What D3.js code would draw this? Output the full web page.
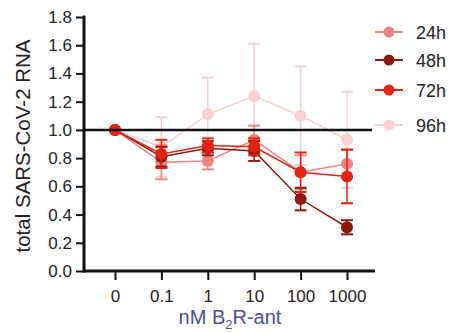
<!DOCTYPE html>
<html><head><meta charset="utf-8">
<script src="https://cdn.jsdelivr.net/npm/d3@7"></script>
<style>body{margin:0;background:#fff}svg{display:block}</style>
</head><body>
<svg id="c" width="455" height="333"></svg>
<script>
const categories = ["0","0.1","1","10","100","1000"];
const yTicks = [0,0.2,0.4,0.6,0.8,1.0,1.2,1.4,1.6,1.8];
const seriesNames = ["24h","48h","72h","96h"];
const v24 = [1.0,0.77,0.78,0.93,0.70,0.76];
const e24 = [0,0.12,0.06,0.10,0.12,0.10];
const v48 = [1.0,0.81,0.87,0.85,0.51,0.31];
const e48 = [0,0.07,0.05,0.07,0.08,0.05];
const v72 = [1.0,0.83,0.89,0.88,0.70,0.67];
const e72 = [0,0.10,0.05,0.06,0.14,0.19];
const v96 = [1.0,0.88,1.11,1.24,1.10,0.93];
const e96 = [0,0.21,0.26,0.37,0.35,0.34];
const colors = ["#f08282","#8b180c","#e2230f","#f7c0c0"];

const svg = d3.select("#c");
const x = d3.scalePoint().domain(categories).range([115,347]);
const y = d3.scaleLinear().domain([0,1.8]).range([271,17]);
const font = "Liberation Sans, Arial, sans-serif";

const series = [
  {name:seriesNames[0], v:v24, e:e24, c:colors[0], op:1},
  {name:seriesNames[1], v:v48, e:e48, c:colors[1], op:1},
  {name:seriesNames[2], v:v72, e:e72, c:colors[2], op:1},
  {name:seriesNames[3], v:v96, e:e96, c:colors[3], op:0.75}
];
const order = [3,0,1,2];

// axes
const yAxis = d3.axisLeft(y).tickValues(yTicks).tickFormat(d3.format(".1f")).tickSize(8).tickPadding(4);
const gy = svg.append("g").attr("transform","translate(84,0)").call(yAxis);
gy.select(".domain").attr("stroke","#111").attr("stroke-width",3).attr("d","M0,15.5V272.5");
gy.selectAll(".tick line").attr("stroke","#111").attr("stroke-width",2);
gy.selectAll(".tick text").attr("font-family",font).attr("font-size",17).attr("fill","#222");

const xAxis = d3.axisBottom(x).tickSize(9).tickPadding(10);
const gx = svg.append("g").attr("transform","translate(0,271)").call(xAxis);
gx.select(".domain").attr("stroke","#111").attr("stroke-width",3).attr("d","M83,0H375");
gx.selectAll(".tick line").attr("stroke","#111").attr("stroke-width",2);
gx.selectAll(".tick text").attr("font-family",font).attr("font-size",17).attr("fill","#222");

// series
order.forEach(i=>{
  const s = series[i];
  const g = svg.append("g").attr("opacity",s.op);
  const pts = categories.map((c,j)=>({c, v:s.v[j], e:s.e[j]}));
  g.append("path").datum(pts)
    .attr("fill","none").attr("stroke",s.c).attr("stroke-width",1.5)
    .attr("d",d3.line().x(d=>x(d.c)).y(d=>y(d.v)));
  const eb = g.selectAll(".eb").data(pts.filter(d=>d.e>0)).enter().append("g");
  eb.append("line").attr("x1",d=>x(d.c)).attr("x2",d=>x(d.c))
    .attr("y1",d=>y(d.v+d.e)).attr("y2",d=>y(d.v-d.e)).attr("stroke",s.c).attr("stroke-width",1.5);
  eb.append("line").attr("x1",d=>x(d.c)-6).attr("x2",d=>x(d.c)+6)
    .attr("y1",d=>y(d.v+d.e)).attr("y2",d=>y(d.v+d.e)).attr("stroke",s.c).attr("stroke-width",2);
  eb.append("line").attr("x1",d=>x(d.c)-6).attr("x2",d=>x(d.c)+6)
    .attr("y1",d=>y(d.v-d.e)).attr("y2",d=>y(d.v-d.e)).attr("stroke",s.c).attr("stroke-width",2);
  g.selectAll("circle").data(pts).enter().append("circle")
    .attr("cx",d=>x(d.c)).attr("cy",d=>y(d.v)).attr("r",6).attr("fill",s.c);
});

// reference line at 1.0
svg.append("line").attr("x1",84).attr("x2",372).attr("y1",y(1)).attr("y2",y(1))
  .attr("stroke","#111").attr("stroke-width",2.5);

// legend
const legY = [32,60,90,125];
series.forEach((s,i)=>{
  const g = svg.append("g").attr("opacity",s.op);
  g.append("line").attr("x1",375).attr("x2",403).attr("y1",legY[i]).attr("y2",legY[i])
    .attr("stroke",s.c).attr("stroke-width",2);
  g.append("circle").attr("cx",389).attr("cy",legY[i]).attr("r",5.5).attr("fill",s.c);
  svg.append("text").attr("x",416).attr("y",legY[i]+7).text(s.name)
    .attr("font-family",font).attr("font-size",18).attr("fill","#222");
});

// y title
svg.append("text").attr("transform","translate(30,146) rotate(-90)")
  .attr("text-anchor","middle").attr("font-family",font).attr("font-size",20.5).attr("fill","#222")
  .text("total SARS-CoV-2 RNA");
// x title
const xt = svg.append("text").attr("x",230).attr("y",324).attr("text-anchor","middle")
  .attr("font-family",font).attr("font-size",20).attr("fill","#4a4aa0");
xt.append("tspan").text("nM B");
xt.append("tspan").attr("font-size",13).attr("dy",5).text("2");
xt.append("tspan").attr("dy",-5).text("R-ant");
</script>
</body></html>
